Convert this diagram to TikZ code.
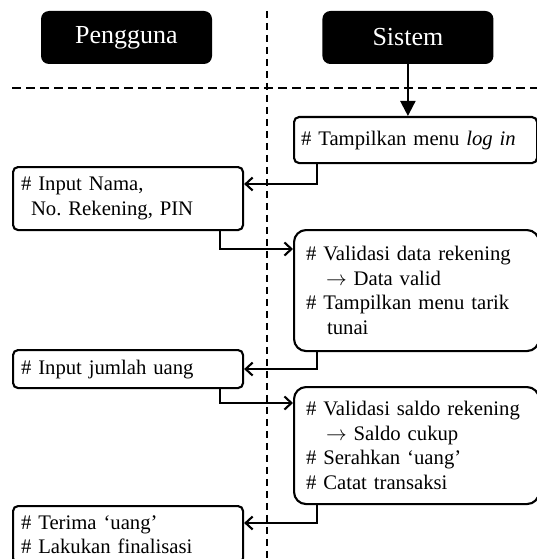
\documentclass[tikz,border=0pt]{standalone}
\usepackage{fontspec}
\setmainfont{Liberation Serif}
\usetikzlibrary{arrows.meta,positioning,calc}
\tikzset{
  lanehead/.style={
    rectangle,
    rounded corners=8pt,
    fill=black,
    text=white,
    minimum width=171pt,
    minimum height=53pt,
    font=\fontsize{26}{30}\selectfont
  },
  stepbox/.style={
    rectangle,
    rounded corners=5pt,
    draw,
    line width=2.1pt,
    fill=white,
    anchor=north west,
    align=left,
    inner xsep=8pt,
    inner ysep=0pt,
    font=\fontsize{20.7}{24.5}\selectfont
  },
  checkbox/.style={
    stepbox,
    rounded corners=12pt,
    inner xsep=12pt
  },
  flowarrow/.style={-{Straight Barb[length=7pt,width=13pt]},line width=2.1pt},
  startarrow/.style={-{Triangle[length=15pt,width=15pt]},line width=2.1pt},
  lane/.style={line width=2pt,dash pattern=on 9pt off 5pt}
}

\begin{document}
\begin{tikzpicture}[x=1pt,y=-1pt]
  \clip (0,0) rectangle (537,559);

  \node[lanehead] (hdrUser) at (126.5,37.5) {Pengguna};
  \node[lanehead, right=110pt of hdrUser] (hdrSys) {Sistem};

  % swimlane dividers
  \draw[lane,dash pattern=on 7pt off 5pt]
    ($(hdrUser.north east)!.5!(hdrSys.north west)$) -- ++(0,552);
  \draw[lane] (12,88) -- (540,88);

  \node[stepbox, text width=229pt, minimum height=46pt, inner xsep=7pt] (login) at (293,116) {
    \# Tampilkan menu \textit{log in}
  };

  \node[stepbox, text width=214pt, minimum height=63pt] (inputId) at (12,166) {
    \# Input Nama,\\
    \hspace*{10pt}No.\ Rekening, PIN
  };

  \node[checkbox, text width=221pt, minimum height=121pt] (validasi) at (293,229) {
    \# Validasi data rekening\\
    \hspace*{20pt}$\rightarrow$ Data valid\\
    \# Tampilkan menu tarik\\
    \hspace*{21pt}tunai
  };

  \node[stepbox, text width=214pt, minimum height=38pt] (inputJumlah) at (12,349) {
    \# Input jumlah uang
  };

  \node[checkbox, text width=221pt, minimum height=117pt] (validasiSaldo) at (293,386) {
    \# Validasi saldo rekening\\
    \hspace*{20pt}$\rightarrow$ Saldo cukup\\
    \# Serahkan `uang'\\
    \# Catat transaksi
  };

  \node[stepbox, text width=214pt, minimum height=57pt] (terima) at (12,505) {
    \# Terima `uang'\\
    \# Lakukan finalisasi
  };

  \draw[startarrow] (hdrSys.south) -- (hdrSys.south |- login.north);
  \draw[flowarrow] ([xshift=24pt]login.south west) |- ([yshift=-18pt]inputId.north east);
  \draw[flowarrow] ([xshift=-24pt]inputId.south east) |- ([yshift=-20pt]validasi.north west);
  \draw[flowarrow] ([xshift=24pt]validasi.south west) |- (inputJumlah.east);
  \draw[flowarrow] ([xshift=-24pt]inputJumlah.south east) |- ([yshift=-17pt]validasiSaldo.north west);
  \draw[flowarrow] ([xshift=24pt]validasiSaldo.south west) |- ([yshift=-18pt]terima.north east);
\end{tikzpicture}
\end{document}
